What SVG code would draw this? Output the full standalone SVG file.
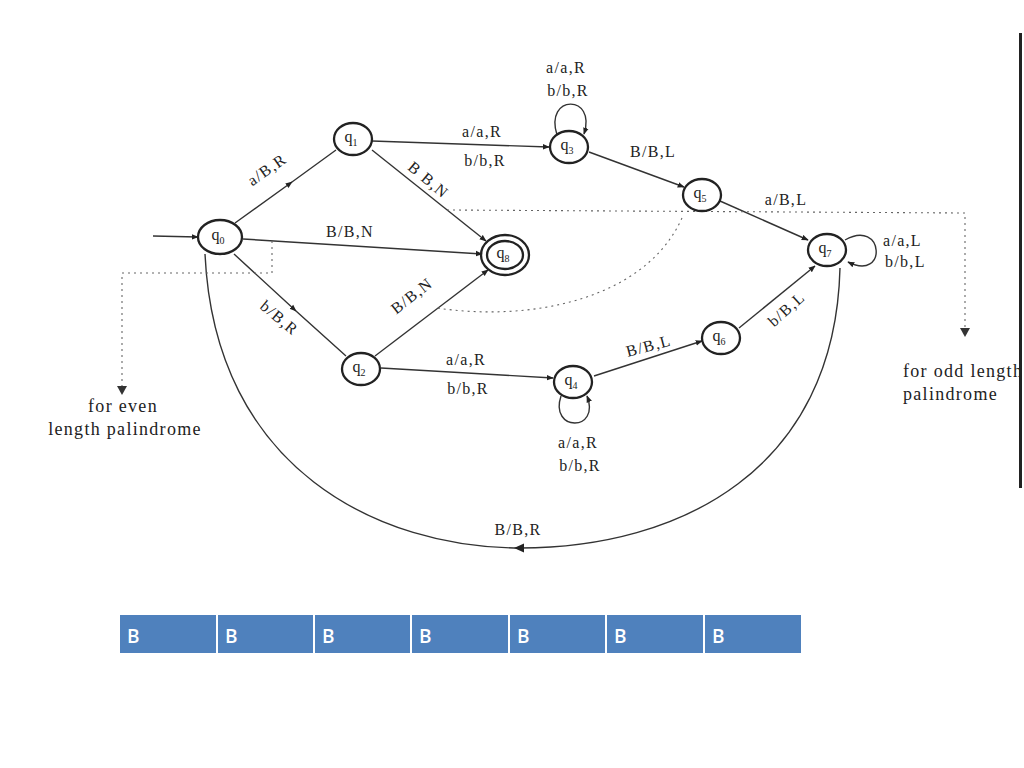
<svg xmlns="http://www.w3.org/2000/svg" width="1024" height="768" viewBox="0 0 1024 768">
<defs>
<marker id="ah" viewBox="0 0 10 10" refX="9" refY="5" markerWidth="7" markerHeight="7" orient="auto" markerUnits="userSpaceOnUse">
<path d="M0,1 L10,5 L0,9 z" fill="#222"/>
</marker>
</defs>
<style>
.n{fill:none;stroke:#222;stroke-width:2.3}
.e{fill:none;stroke:#333;stroke-width:1.4}
.d{fill:none;stroke:#666;stroke-width:1.1;stroke-dasharray:2 4}
.t{font-family:"Liberation Serif",serif;font-size:16px;letter-spacing:1.3px;fill:#222}
.g{font-family:"Liberation Serif",serif;font-size:18px;letter-spacing:1.3px;fill:#222}
.q{font-family:"Liberation Serif",serif;font-size:16px;fill:#222;text-anchor:middle}
.c{fill:#4f81bd}
.b{font-family:"Open Sans","Liberation Sans",sans-serif;font-size:19px;font-weight:600;fill:#fff}
</style>
<rect width="1024" height="768" fill="#fff"/>

<g id="connectors">
<line class="e" x1="153" y1="236" x2="198" y2="237" marker-end="url(#ah)"/>
<polyline class="e" points="235,223 292,182 336,150" marker-mid="url(#ah)"/>
<line class="e" x1="372" y1="141" x2="549" y2="147" marker-end="url(#ah)"/>
<line class="e" x1="372" y1="150" x2="486" y2="241" marker-end="url(#ah)"/>
<line class="e" x1="243" y1="239" x2="482" y2="254" marker-end="url(#ah)"/>
<polyline class="e" points="234,254 296,311 346,356" marker-mid="url(#ah)"/>
<line class="e" x1="375" y1="356" x2="488" y2="270" marker-end="url(#ah)"/>
<line class="e" x1="381" y1="368" x2="553" y2="378" marker-end="url(#ah)"/>
<path class="e" d="M557 135 C544 94 597 94 584 134" marker-end="url(#ah)"/>
<line class="e" x1="589" y1="152" x2="684" y2="187" marker-end="url(#ah)"/>
<line class="e" x1="720" y1="201" x2="808" y2="240" marker-end="url(#ah)"/>
<path class="e" d="M845 240 C884 218 888 282 848 262" marker-end="url(#ah)"/>
<path class="e" d="M561 396 C549 432 601 432 587 396" marker-end="url(#ah)"/>
<line class="e" x1="594" y1="376" x2="702" y2="341" marker-end="url(#ah)"/>
<line class="e" x1="739" y1="328" x2="815" y2="266" marker-end="url(#ah)"/>
<path class="e" d="M840 268 C835 470 680 548 520 548 C380 548 215 470 205 254"/>
<path d="M514 548 L524 543.5 L524 552.5 z" fill="#222"/>
<path class="d" d="M272 241 L272 273 L122 273 L122 388"/>
<path d="M117 386 L127 386 L122 395 z" fill="#333"/>
<path class="d" d="M447 210 L965 213 L965 330"/>
<path d="M960 328 L970 328 L965 337 z" fill="#333"/>
<path class="d" d="M682 218 C645 300 530 322 437 308"/>
</g>

<g id="q0"><ellipse class="n" cx="220" cy="237" rx="22" ry="17"/><text class="q" x="218" y="240">q<tspan font-size="10" dy="4">0</tspan></text></g>
<g id="q1"><ellipse class="n" cx="353" cy="139" rx="19" ry="16"/><text class="q" x="351" y="142">q<tspan font-size="10" dy="4">1</tspan></text></g>
<g id="q2"><ellipse class="n" cx="361" cy="369" rx="19" ry="16"/><text class="q" x="359" y="372">q<tspan font-size="10" dy="4">2</tspan></text></g>
<g id="q3"><ellipse class="n" cx="569" cy="147" rx="19" ry="16"/><text class="q" x="567" y="150">q<tspan font-size="10" dy="4">3</tspan></text></g>
<g id="q4"><ellipse class="n" cx="573" cy="382" rx="19" ry="16"/><text class="q" x="571" y="385">q<tspan font-size="10" dy="4">4</tspan></text></g>
<g id="q5"><ellipse class="n" cx="702" cy="195" rx="19" ry="16"/><text class="q" x="700" y="198">q<tspan font-size="10" dy="4">5</tspan></text></g>
<g id="q6"><ellipse class="n" cx="721" cy="338" rx="19" ry="16"/><text class="q" x="719" y="341">q<tspan font-size="10" dy="4">6</tspan></text></g>
<g id="q7"><ellipse class="n" cx="827" cy="250" rx="19" ry="16"/><text class="q" x="825" y="253">q<tspan font-size="10" dy="4">7</tspan></text></g>
<g id="q8"><ellipse class="n" cx="505" cy="255" rx="24" ry="20"/><ellipse class="n" cx="505" cy="255" rx="18" ry="14"/><text class="q" x="503" y="258">q<tspan font-size="10" dy="4">8</tspan></text></g>

<g id="labels">
<text class="t" text-anchor="middle" transform="translate(270,174) rotate(-35)">a/B,R</text>
<text class="t" x="482" y="137" text-anchor="middle">a/a,R</text>
<text class="t" x="485" y="166" text-anchor="middle">b/b,R</text>
<text class="t" text-anchor="middle" transform="translate(425,184) rotate(40)">B B,N</text>
<text class="t" x="350" y="237" text-anchor="middle">B/B,N</text>
<text class="t" text-anchor="middle" transform="translate(276,322) rotate(40)">b/B,R</text>
<text class="t" text-anchor="middle" transform="translate(415,300) rotate(-38)">B/B,N</text>
<text class="t" x="466" y="365" text-anchor="middle">a/a,R</text>
<text class="t" x="468" y="394" text-anchor="middle">b/b,R</text>
<text class="t" x="566" y="73" text-anchor="middle">a/a,R</text>
<text class="t" x="568" y="96" text-anchor="middle">b/b,R</text>
<text class="t" x="653" y="157" text-anchor="middle">B/B,L</text>
<text class="t" x="786" y="205" text-anchor="middle">a/B,L</text>
<text class="t" x="883" y="246">a/a,L</text>
<text class="t" x="885" y="267">b/b,L</text>
<text class="t" x="578" y="448" text-anchor="middle">a/a,R</text>
<text class="t" x="580" y="471" text-anchor="middle">b/b,R</text>
<text class="t" text-anchor="middle" transform="translate(650,351) rotate(-15)">B/B,L</text>
<text class="t" text-anchor="middle" transform="translate(790,313) rotate(-42)">b/B,L</text>
<text class="t" x="518" y="535" text-anchor="middle">B/B,R</text>
<text class="g" x="123" y="412" text-anchor="middle">for even</text>
<text class="g" x="125" y="435" text-anchor="middle">length palindrome</text>
<text class="g" x="903" y="377">for odd length</text>
<text class="g" x="903" y="400">palindrome</text>
</g>

<rect x="1021" y="0" width="3" height="768" fill="#fff"/>
<rect x="1019" y="33" width="3" height="455" fill="#222"/>

<g id="tape">
<rect class="c" x="120" y="615" width="96" height="38"/>
<rect class="c" x="218" y="615" width="95" height="38"/>
<rect class="c" x="315" y="615" width="95" height="38"/>
<rect class="c" x="412" y="615" width="96" height="38"/>
<rect class="c" x="510" y="615" width="95" height="38"/>
<rect class="c" x="607" y="615" width="96" height="38"/>
<rect class="c" x="705" y="615" width="96" height="38"/>
<text class="b" x="127" y="643">B</text>
<text class="b" x="225" y="643">B</text>
<text class="b" x="322" y="643">B</text>
<text class="b" x="419" y="643">B</text>
<text class="b" x="517" y="643">B</text>
<text class="b" x="614" y="643">B</text>
<text class="b" x="712" y="643">B</text>
</g>
</svg>
